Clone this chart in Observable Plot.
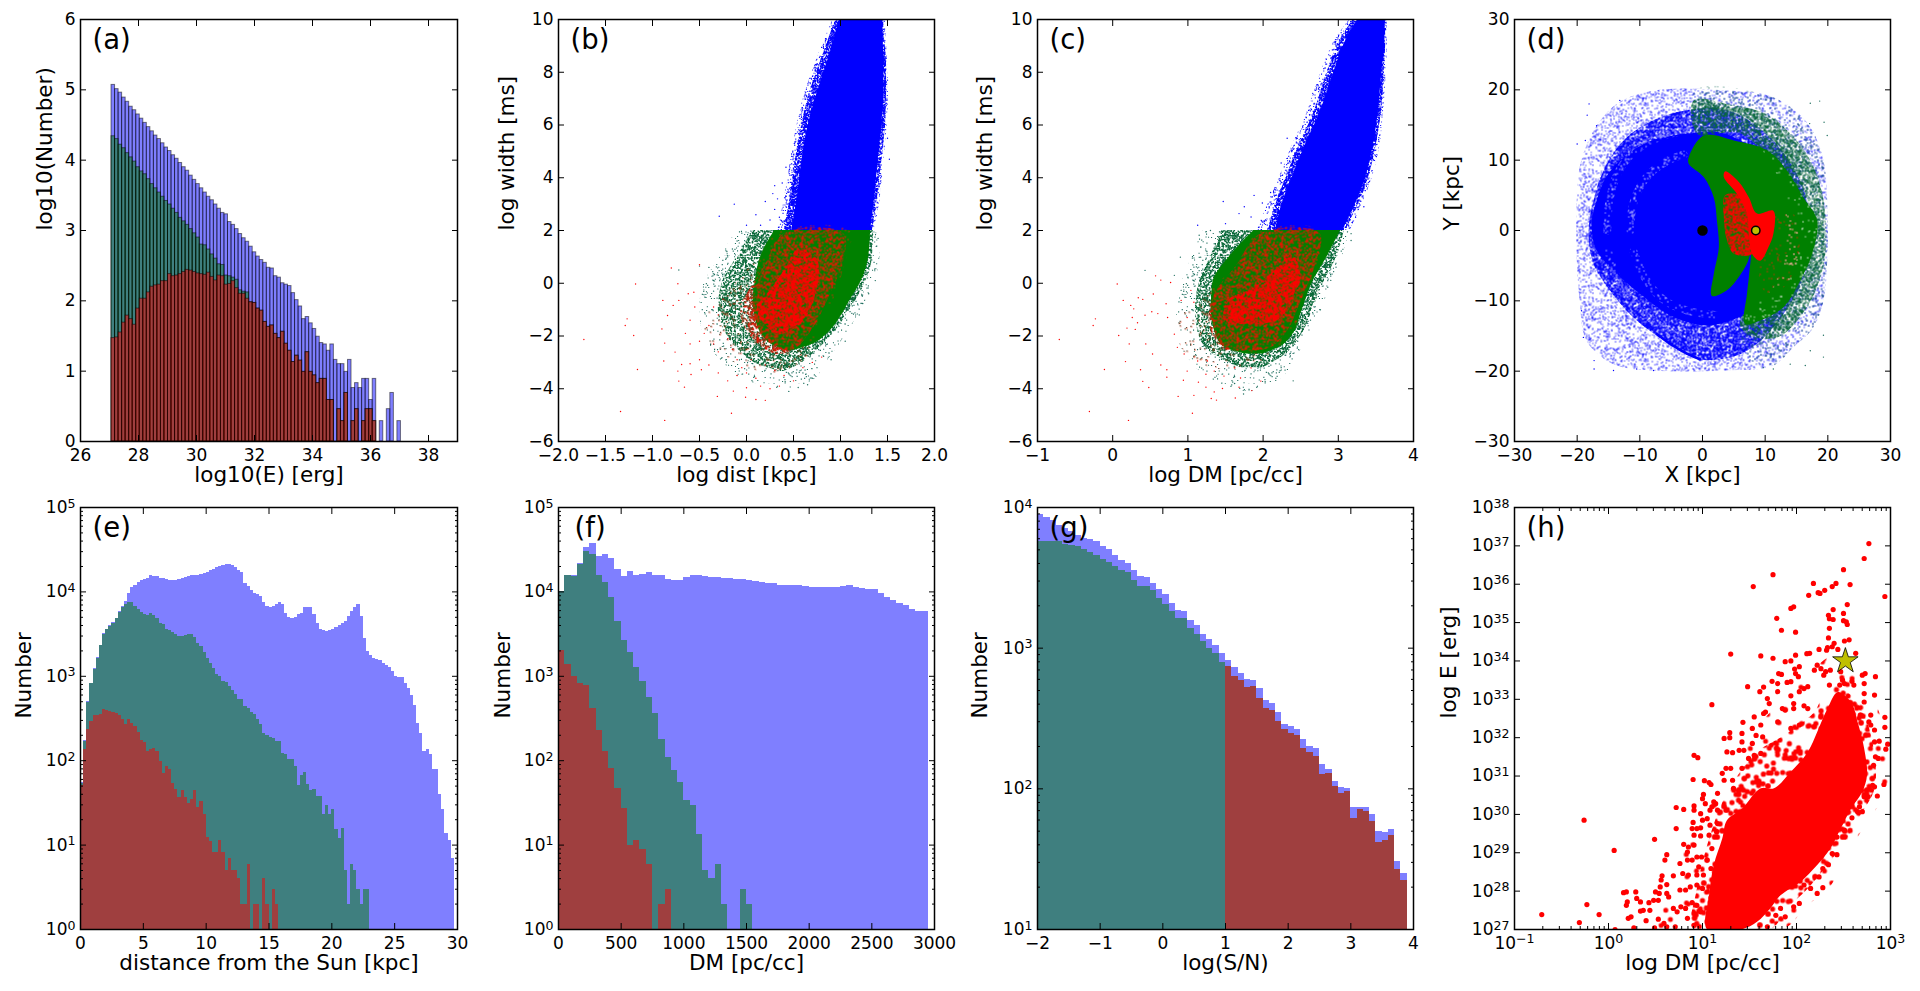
<!DOCTYPE html>
<html>
<head>
<meta charset="utf-8">
<script src="https://cdn.jsdelivr.net/npm/d3@7"></script>
<script src="https://cdn.jsdelivr.net/npm/@observablehq/plot@0.6"></script>
<style>
  html, body { margin: 0; background: #fff; }
  #page { position: relative; width: 1920px; height: 991px; overflow: hidden; }
  #page > div { position: absolute; }
  svg { overflow: visible; }
</style>
</head>
<body>
<div id="page"></div>
<script>
// (a) log10(count) per energy bin
const aStart = 27.07, aWidth = 0.1217;
const aBlue = [5.07,5.01,4.96,4.89,4.83,4.76,4.71,4.65,4.59,4.53,4.47,4.41,4.35,4.30,4.24,4.18,4.13,4.07,4.02,3.96,3.90,3.85,3.78,3.72,3.66,3.60,3.54,3.48,3.43,3.37,3.31,3.25,3.23,3.12,3.08,3.02,2.95,2.89,2.84,2.77,2.69,2.63,2.58,2.54,2.47,2.46,2.35,2.33,2.25,2.23,2.21,2.11,2.01,1.92,1.74,1.77,1.68,1.60,1.49,1.40,1.38,1.29,1.38,1.16,1.10,1.10,.99,1.16,.76,.83,.76,.89,.89,.59,.89,0,.29,0,.46,.69,0,.29];
const aGreen = [4.34,4.30,4.22,4.17,4.10,4.04,3.98,3.90,3.84,3.80,3.73,3.66,3.60,3.54,3.48,3.42,3.37,3.31,3.25,3.18,3.13,3.08,3.02,2.96,2.90,2.80,2.79,2.73,2.66,2.60,2.52,2.51,2.36,2.35,2.33,2.30,2.15,2.13,2.12];
const aRed = [1.47,1.48,1.55,1.69,1.79,1.74,1.66,1.89,2.03,2.03,2.12,2.20,2.22,2.23,2.28,2.28,2.38,2.35,2.36,2.38,2.41,2.44,2.43,2.41,2.39,2.38,2.37,2.40,2.34,2.29,2.36,2.35,2.23,2.24,2.28,2.18,2.10,2.10,2.03,1.98,1.97,1.89,1.86,1.70,1.63,1.65,1.53,1.47,1.56,1.39,1.29,1.13,1.22,1.15,.99,1.27,.99,.94,.83,.89,.89,.59,.59,0,.46,.29,.69,0,.29,.46,0,.29,.46,.46,.29];

// (e) log10(count), 0.25 kpc bins
const eBlue = [1.74,2.24,2.70,2.92,3.09,3.22,3.37,3.51,3.56,3.60,3.64,3.69,3.77,3.83,3.89,3.98,4.05,4.08,4.11,4.14,4.15,4.16,4.19,4.18,4.18,4.16,4.16,4.15,4.14,4.14,4.14,4.15,4.16,4.17,4.18,4.19,4.20,4.20,4.21,4.22,4.23,4.25,4.27,4.29,4.30,4.31,4.32,4.32,4.31,4.29,4.25,4.23,4.10,4.06,4.02,3.98,3.97,3.95,3.87,3.83,3.81,3.83,3.85,3.88,3.85,3.75,3.70,3.69,3.70,3.73,3.74,3.81,3.81,3.82,3.73,3.63,3.56,3.54,3.53,3.54,3.55,3.58,3.60,3.63,3.65,3.71,3.77,3.81,3.85,3.71,3.45,3.29,3.25,3.21,3.20,3.19,3.15,3.13,3.10,3.06,3.00,2.99,2.99,2.92,2.85,2.77,2.65,2.44,2.32,2.11,2.13,2.07,1.89,1.89,1.60,1.42,1.14,1.05,.84];
const eGreen = [1.73,2.23,2.69,2.91,3.08,3.21,3.36,3.50,3.55,3.59,3.63,3.68,3.76,3.81,3.85,3.87,3.87,3.83,3.79,3.76,3.73,3.72,3.75,3.72,3.69,3.62,3.61,3.55,3.54,3.52,3.49,3.47,3.47,3.48,3.50,3.49,3.46,3.39,3.35,3.28,3.21,3.15,3.09,3.02,3.00,2.94,2.93,2.88,2.83,2.78,2.73,2.72,2.64,2.62,2.57,2.55,2.49,2.43,2.32,2.30,2.28,2.26,2.23,2.23,2.08,2.07,2.01,2.02,1.93,1.71,1.83,1.86,1.72,1.65,1.66,1.57,1.57,1.36,1.47,1.36,1.42,1.18,1.08,1.20,.70,.30,.77,.70,.47,.30,.47,.47];
const eRed = [1.71,2.13,2.37,2.46,2.53,2.54,2.55,2.61,2.60,2.58,2.57,2.56,2.53,2.49,2.43,2.49,2.44,2.40,2.34,2.24,2.21,2.11,2.13,2.14,2.11,1.99,1.85,1.93,1.89,1.73,1.66,1.56,1.65,1.56,1.49,1.54,1.65,1.45,1.52,1.36,1.09,1.04,.91,.91,1.05,.91,.70,.84,.70,.70,.61,.30,.30,.77,0,.30,.30,0,.60,.30,0,.47,.30];

// (f) log10(count), 50 pc/cc bins
const fBlue = [4.00,4.20,4.19,4.34,4.53,4.57,4.42,4.44,4.39,4.26,4.18,4.24,4.20,4.21,4.23,4.20,4.19,4.15,4.13,4.14,4.17,4.19,4.19,4.18,4.17,4.17,4.16,4.16,4.15,4.15,4.14,4.12,4.11,4.10,4.10,4.08,4.07,4.07,4.07,4.06,4.05,4.05,4.05,4.05,4.05,4.06,4.07,4.05,4.04,4.03,4.03,3.98,3.93,3.90,3.86,3.84,3.79,3.77,3.77];
const fGreen = [4.00,4.19,4.18,4.32,4.48,4.44,4.20,4.11,3.93,3.65,3.42,3.28,3.10,2.94,2.75,2.56,2.25,2.04,1.88,1.74,1.53,1.47,1.12,.70,.61,.77,.30,0,0,.47,.30];
const fRed = [3.31,3.14,3.00,2.92,2.89,2.62,2.36,2.11,1.91,1.67,1.43,1.00,1.05,.95,.77,0,.30,.47];

// (g) log10(count), 0.1 dex bins from -2
const gBlue = [3.95,3.93,3.91,3.87,3.85,3.83,3.80,3.78,3.77,3.76,3.72,3.70,3.66,3.62,3.60,3.55,3.51,3.50,3.46,3.42,3.38,3.32,3.27,3.26,3.20,3.16,3.10,3.06,3.02,2.96,2.91,2.86,2.82,2.78,2.77,2.71,2.63,2.61,2.54,2.46,2.44,2.42,2.35,2.30,2.29,2.17,2.14,2.05,2.01,2.00,1.87,1.87,1.87,1.82,1.70,1.69,1.71,1.48,1.40];
const gGreen = [3.76,3.76,3.76,3.76,3.74,3.73,3.72,3.70,3.68,3.66,3.63,3.61,3.58,3.55,3.54,3.48,3.44,3.44,3.41,3.35,3.31,3.26,3.21,3.21,3.14,3.10,3.05,3.00,2.96,2.90];
const gRed = [2.87,2.80,2.77,2.72,2.73,2.64,2.57,2.56,2.48,2.42,2.39,2.38,2.29,2.26,2.23,2.10,2.11,2.02,1.97,1.98,1.79,1.85,1.84,1.77,1.62,1.63,1.67,1.43,1.35];

// (b) cloud edges read per width level: log width, then left and right log dist
const bBlueY = [2,3.14,4.66,6.05,7.19,8.33,9.22,10];
const bBlueCoreL = [.48,.535,.59,.66,.75,.855,.93,.99];
const bBlueCoreR = [1.32,1.36,1.40,1.44,1.46,1.46,1.455,1.45];
const bBlueMidL = [.40,.46,.52,.59,.67,.78,.87,.95];
const bBlueMidR = [1.34,1.39,1.44,1.48,1.49,1.49,1.47,1.46];
const bBlueOutL = [.33,.40,.47,.54,.62,.73,.83,.92];
const bBlueOutR = [1.36,1.42,1.46,1.50,1.51,1.50,1.49,1.48];
const bGreenCoreY = [2,1,0,-.65,-1.22,-1.92,-2.3,-2.55];
const bGreenCoreL = [.30,.15,.09,.07,.09,.16,.26,.42];
const bGreenCoreR = [1.32,1.30,1.21,1.10,1.01,.855,.71,.50];
const bGreenMidY = [2,1,0,-1,-2,-2.7,-3.1,-3.35];
const bGreenMidL = [.07,-.1,-.26,-.30,-.2,-.03,.14,.36];
const bGreenMidR = [1.35,1.34,1.26,1.1,.9,.7,.55,.4];
const bGreenOutY = [2,1,0,-1,-2,-3,-3.7,-4];
const bGreenOutL = [-.1,-.28,-.45,-.5,-.45,-.25,0,.3];
const bGreenOutR = [1.38,1.42,1.36,1.22,1.05,.85,.7,.5];
const bRedOut = [[.36,1.98],[1.1,1.98],[1.05,.8],[.9,-.8],[.75,-2],[.6,-3],[.3,-3.4],[0,-3.2],[-.3,-2.6],[-.45,-1.8],[-.4,-1],[-.2,-.3],[0,.5]];
const bRedMid = [[.4,1.9],[1.03,1.9],[1.03,.87],[.855,-.65],[.71,-1.66],[.535,-2.42],[.36,-2.68],[.22,-2.55],[0,-1.8],[-.07,-.9],[0,-.4],[.18,.62]];
const bRedCore = [[.55,1.3],[.75,.9],[.72,-.6],[.57,-1.54],[.36,-1.92],[.22,-1.66],[.11,-.9],[.22,-.4],[.4,.5]];
// (b) single points
const bRedDots = [[-1.73,-2.13],[-1.34,-4.86],[-.87,-5.2],[-.16,-4.93],[-1.16,-3.27],[-1.2,-1.98],[-1.29,-1.6],[-1.27,-1.35],[-1.18,-.03],[-.8,.58],[-.73,-.02],[-.89,-.65],[-.9,-1.73],[-.87,-2.27],[-.88,-2.95],[-.73,-3.33],[-.72,-3.71],[-.66,-3.94],[-.76,-2.61],[-.69,-3.08],[-.59,-3.46],[-.6,-3.05],[-.48,-3.28],[-.31,-4.29],[-.14,-4.09],[-.01,-4.32],[.2,-4.44],[.1,-4.41],[0,-3.96],[-.84,-1.22],[-.78,-.84],[-.72,-.65],[-.62,-.4],[-.56,-.34],[-.5,.7],[-.35,-.9],[-.3,-1.2],[-.25,-.6],[-.4,-1.6],[-.45,-1.9],[-.5,-2.2],[-.35,-2.3],[-.3,-2.6],[-.2,-2.1],[-.15,-2.5],[-.1,-2.9],[-.05,-3.2],[0,-3.4],[.1,-3.6],[.15,-3.9],[.25,-4.0],[.35,-3.9],[.4,-3.5],[.5,-3.7],[.6,-3.2],[.7,-3.0],[.8,-2.8],[-.6,-1.4],[-.55,-.9],[-.65,-1.9],[-.6,-2.3],[-.5,-2.9],[-.4,-3.1],[-.3,-3.4],[-.2,-3.7],[-.1,-3.5],[.05,-2.9],[.2,-3.1],[.3,-3.3]];
const bGreenDots = [[-.72,.5],[-.5,.65],[-.4,.6],[-.3,.3],[-.2,1.0],[-.15,1.3],[-.1,1.6],[-.05,1.9],[-.25,.1],[-.35,-.3],[.6,-3.4],[.7,-3.6],[.75,-3.2],[.9,-2.9],[1.05,-2.2],[1.2,-1.2],[1.3,-.4],[1.37,.1],[1.38,1.4],[1.4,1.7],[.45,-4.1],[.55,-3.95],[.65,-3.85]];
const bBlueDots = [[-.29,2.54],[-.13,3.0],[.1,2.6],[.2,3.1],[.28,3.4],[.3,2.8],[.38,3.8],[.3,3.7],[.42,4.4],[.48,4.9],[.55,5.4],[.6,5.8],[.62,6.5],[.7,7.5],[1.5,7.7],[1.52,4.7],[1.5,5.5],[.15,2.2],[.25,2.4],[.35,2.5],[0,2.2],[.33,3.2],[.42,3.3]];

// (c) cloud edges read per width level: log width, then left and right log DM
const cBlueY = [2,2.9,3.9,5.17,6.44,8.08,9.09,10];
const cBlueCoreL = [2.17,2.24,2.37,2.55,2.75,2.95,3.08,3.26];
const cBlueCoreR = [3.06,3.21,3.35,3.46,3.53,3.58,3.62,3.62];
const cBlueMidL = [2.07,2.16,2.29,2.47,2.67,2.86,3.0,3.2];
const cBlueMidR = [3.10,3.25,3.39,3.50,3.57,3.61,3.63,3.63];
const cBlueOutL = [1.92,2.05,2.2,2.38,2.58,2.78,2.93,3.15];
const cBlueOutR = [3.16,3.3,3.44,3.55,3.6,3.64,3.65,3.65];
const cGreenCoreY = [2,1,0,-1,-2,-2.45,-2.68];
const cGreenCoreL = [1.88,1.55,1.33,1.31,1.38,1.5,1.75];
const cGreenCoreR = [3.03,2.85,2.65,2.52,2.38,2.2,2.0];
const cGreenMidY = [2,1,0,-1,-2,-2.8,-3.2];
const cGreenMidL = [1.45,1.3,1.15,1.1,1.15,1.4,1.7];
const cGreenMidR = [3.08,2.98,2.8,2.66,2.5,2.25,2.0];
const cGreenOutY = [2,1,0,-1,-2,-3,-3.7,-4.1];
const cGreenOutL = [1.2,1.05,.92,.85,.87,1.05,1.35,1.7];
const cGreenOutR = [3.15,3.05,2.9,2.78,2.6,2.4,2.2,1.9];
const cRedOut = [[1.95,1.98],[2.78,1.98],[2.7,.6],[2.55,-.8],[2.35,-2],[2.1,-2.8],[1.7,-3.2],[1.3,-3.2],[.98,-2.7],[.85,-1.8],[1.0,-.9],[1.3,-.2],[1.65,.7]];
const cRedMid = [[1.97,1.9],[2.75,1.9],[2.68,.61],[2.50,-.65],[2.32,-1.79],[2.10,-2.42],[1.75,-2.55],[1.44,-2.42],[1.28,-1.54],[1.35,-.4],[1.62,.61]];
const cRedCore = [[2.37,1.11],[2.50,.23],[2.41,-.4],[2.24,-1.29],[1.97,-1.54],[1.66,-1.54],[1.48,-1.41],[1.53,-.65],[1.88,-.15],[2.19,.61]];
// (c) single points
const cRedDots = [[-.71,-2.13],[-.31,-4.86],[.21,-5.2],[1.06,-4.93],[-.11,-3.27],[.08,-1.98],[-.26,-1.6],[-.23,-1.35],[.06,-.03],[.14,-.65],[.24,-.84],[.28,-.97],[.4,-.61],[.34,-.55],[.57,.28],[.64,.12],[.77,.03],[.54,-.41],[.71,-.78],[.43,-1.21],[.52,-1.08],[.6,-1.15],[.33,-1.5],[.26,-1.3],[.3,-1.75],[.19,-1.7],[.22,-2.3],[.17,-2.97],[.37,-3.28],[.4,-3.72],[.48,-3.95],[.44,-2.3],[.53,-2.68],[.64,-3.1],[.72,-3.28],[.72,-3.56],[.94,-3.68],[.87,-4.29],[1.08,-4.25],[1.14,-3.75],[1.24,-3.94],[1.31,-4.37],[1.38,-4.43],[1.35,-4.12],[1.46,-3.99],[1.63,-4.35],[1.68,-3.94],[1.85,-4.07],[.73,-1.3],[.82,-1.93],[.86,-2.43],[.95,-2.68],[.99,-3.33],[1.13,-2.95],[1.26,-2.95],[1.24,-3.45],[1.35,-3.33],[1.48,-3.52],[1.62,-3.21],[1.7,-3.59],[1.84,-3.21],[1.97,-3.71],[.91,-.65],[1.04,-.27],[1.08,-.72],[.99,-1.3]];
const cGreenDots = [[.43,.49],[.82,.3],[.9,.99],[1.08,.61],[1.17,1.37],[1.15,1.82],[1.3,2],[1.17,.99],[1.35,1.5],[1.0,.23],[.91,-.27],[3.17,1.62],[3.17,1.88],[2.97,.61],[2.9,.11],[2.86,-.15],[2.68,-.9],[2.63,-1.4],[2.5,-1.9],[2.46,-2.2],[2.37,-2.6],[2.4,-3.7],[2.24,-3.2],[2.17,-3.6],[1.74,-4.2],[1.62,-3.8]];
const cBlueDots = [[1.47,3.1],[1.13,2.2],[1.5,2.26],[1.68,2.64],[1.88,3.33],[1.99,3.04],[1.84,2.51],[1.75,2.9],[2.1,3.44],[2.24,4.56],[2.32,5.5],[2.57,6.3],[2.66,7.2],[2.68,6.4],[2.41,5.1],[3.41,4.2],[3.34,2.9],[3.23,2.5]];

// (d) galaxy map regions, [X, Y] in kpc
const dBlueHalo = [[-20.1,3.3],[-19.6,9],[-17.4,14.2],[-13.7,18],[-8.9,19.7],[-3,20.2],[3.9,19.9],[9.7,19.4],[14,17.6],[17.2,14.7],[19.3,10],[19.9,4.3],[19.9,-4.3],[19.3,-10],[17.7,-13.8],[14.5,-16.6],[11.3,-19.2],[3.4,-19.9],[-7.8,-19.9],[-14.2,-19],[-18.5,-15.7],[-19.6,-10],[-20.1,-3.3]];
const dBlueMid = [[-18.2,-.5],[-17.4,4.3],[-15.8,8.5],[-12.6,12.8],[-7.8,15.7],[-2.5,17.1],[3.9,17.1],[11.3,12.8],[16.7,4.3],[16.7,-5.2],[11.3,-13.8],[6,-17.6],[-.4,-18.3],[-5.2,-16.1],[-10.5,-12.8],[-14.8,-8.5],[-17.4,-4.7]];
const dBlueCore = [[-17.7,.5],[-16.9,4.3],[-15,8.1],[-11.6,11.1],[-7.3,13],[-2,13.8],[3.4,13.8],[11.3,9],[14,-.5],[11.3,-10],[6,-12.3],[.7,-13.5],[-4.6,-12.3],[-10,-9],[-14.2,-5.7],[-16.9,-2.8]];
const dGreenOut = [[-1,20],[9.7,19.4],[14,17.6],[17.2,14.7],[19.3,10],[19.9,4.3],[19.9,-4.3],[19.3,-10],[17.7,-13.8],[14.5,-16.6],[11.3,-19.2],[7,-18],[6,-13],[13,-.5],[6,14],[-1,14]];
const dGreenHalo = [[-1.4,18.5],[3.9,18],[10.3,16.5],[14,13.8],[17.2,10],[19.3,4.3],[19.6,-3.3],[18.3,-8],[15.6,-12.3],[11.9,-15.2],[7,-14.7],[6,-12.8],[11.3,-8],[13.4,-.5],[11.3,9],[6,13.8],[-.9,13.8]];
const dGreenCore = [[-2.2,10.4],[.2,13.5],[5,12.8],[10.3,11.4],[13.5,8.5],[16.1,4.7],[18.3,1.4],[17.5,-3.3],[15.6,-7.1],[12.9,-10.9],[9.2,-12.8],[6.8,-13.3],[7.1,-9],[7.4,-6.6],[7.7,-3.3],[7.1,-4.7],[5.8,-6.6],[3.9,-8.5],[1.5,-9.3],[1.8,-6.2],[2.6,-2.4],[2.3,1.4],[1.8,4.7],[.2,7.6],[-2.2,9.5]];
const dRedCore = [[3.6,8.4],[5.8,6.9],[7.4,4.7],[8.7,2.4],[11.3,2.8],[11.3,-.5],[10.5,-2.4],[9.2,-4.3],[7.9,-3.3],[7.4,-.5],[7.1,2.4],[5.5,5.2],[3.4,7.6]];
const dRedMid = [[3.6,5],[6,5],[7.8,.5],[8,-3.3],[5,-3.3],[3.9,-1.4],[3.4,1.9]];
const dRedFaint = [[11,2.6],[14.5,2.4],[15.6,-1.4],[13.5,-7.6],[10.3,-9],[8.8,-4.7]];
const dRingsUpper = [[[-15.2,0],[-14.7,5],[-13,9],[-10,11.8],[-6,13.5],[-2,14.3]],[[-11.5,0],[-11,4],[-9,7.5],[-6,9.7],[-3,10.8]]];
const dRingsLower = [[[-15,-3],[-13.5,-7],[-10,-11],[-6,-14],[-2,-15.5],[3,-16]],[[-11,-3],[-9,-7],[-6,-10],[-2,-11.5],[2,-12]]];
const dDarkArc = [[-7.3,-14.7],[-5,-16.2],[-2.5,-17.5],[-.4,-18.3]];
// (d) single points
const dBlueDots = [[-18.1,18],[-18.4,16.4],[-20,12.3],[-18.7,12.8],[-16.9,14.9],[-13.2,18.5],[-19.3,-11.4],[-19,-15.2],[-17.3,-18.5],[-17.3,-19.7],[-14.2,-19.9],[-10.5,-19.7],[-7.8,-19.9]];
const dGreenDots = [[18.7,18.4],[17.2,18.1],[19.4,15.4],[17.1,15.2],[19.9,13.5],[19.3,-14.9],[19.3,-18],[17.2,-17.1],[16.4,-19.2],[14,-19],[11.3,-19.7],[9.7,-19.5]];
const dGalacticCentre = [[0, 0]];
const dSun = [[8.5, 0]];

// (h) [log DM, log E]
const hRedOut = [[.55,27],[.6,27.9],[.75,28.9],[.95,29.9],[1.1,30.8],[1.3,31.5],[1.55,32.2],[1.85,33],[2.1,33.6],[2.45,34.2],[2.7,33.6],[2.9,32.5],[2.97,31.5],[2.95,30.6],[2.75,29.8],[2.55,29],[2.35,28.1],[2.1,27.6],[1.85,27]];
const hRedHalo = [[.91,27],[.94,28.07],[1.05,29.2],[1.19,30.2],[1.33,30.85],[1.58,31.63],[1.87,32.07],[2.19,32.67],[2.35,33.37],[2.58,33.11],[2.75,32.41],[2.83,31.54],[2.83,30.67],[2.68,29.98],[2.51,29.29],[2.33,28.69],[2.12,28.07],[1.90,27.55],[1.72,27]];
const hRedCore = [[1.05,27],[1.07,27.9],[1.12,28.68],[1.21,29.37],[1.26,29.85],[1.42,30.15],[1.62,30.68],[1.76,30.68],[1.94,31.11],[2.12,31.63],[2.22,32.15],[2.33,32.76],[2.44,33.19],[2.58,32.93],[2.65,32.41],[2.72,31.72],[2.75,31.02],[2.70,30.59],[2.58,30.15],[2.47,29.63],[2.36,29.11],[2.22,28.68],[2.04,28.24],[1.83,27.89],[1.72,27.55],[1.58,27.2],[1.41,27]];
const hDots = [[2.77,37.06],[2.72,36.67],[1.75,36.25],[2.50,36.38],[2.18,36.02],[2.42,36.02],[2.38,35.94],[2.57,35.99],[1.54,35.94],[2.13,35.71],[2.23,35.78],[2.25,35.76],[2.30,35.84],[2.94,35.68],[2.54,35.47],[1.97,35.41],[1.94,35.37],[2.39,35.34],[2.50,35.24],[2.34,35.19],[1.79,35.11],[2.35,35.10],[2.39,35.08],[2.50,35.05],[2.53,35.02],[2.54,34.95],[2.35,34.85],[1.84,34.8],[1.99,34.75],[2.34,34.6],[2.56,34.55],[2.51,34.52],[2.40,34.46],[2.38,34.37],[2.44,34.3],[2.33,34.35],[2.24,34.3],[2.32,34.28],[1.30,34.18],[1.62,34.13],[1.75,34.07],[1.99,34.15],[2.11,34.19],[2.14,34.2],[2.63,34.2],[1.88,33.98],[1.94,34.0],[2.03,33.85],[1.98,33.79],[1.99,33.67],[2.02,33.59],[1.81,33.67],[1.84,33.65],[1.74,33.47],[1.80,33.41],[1.90,33.44],[1.94,33.46],[1.48,33.33],[1.65,33.32],[1.61,33.2],[1.80,33.2],[1.94,33.09],[2.03,33.2],[2.08,33.28],[2.12,33.33],[1.10,32.86],[1.69,33.02],[1.71,32.89],[1.67,32.67],[1.55,32.54],[1.65,32.63],[1.85,32.76],[1.88,32.72],[1.97,32.89],[1.97,32.76],[2.08,32.83],[2.12,32.76],[1.43,32.4],[1.62,32.33],[1.80,32.41],[1.94,32.24],[2.03,32.33],[1.29,32.13],[1.23,31.98],[1.29,32.0],[1.42,32.11],[1.53,32.24],[1.57,32.06],[1.64,32.02],[1.42,31.89],[1.53,31.85],[1.44,31.67],[1.26,31.63],[1.32,31.61],[1.39,31.67],[.91,31.54],[.95,31.48],[1.49,31.46],[1.55,31.54],[1.62,31.59],[1.25,31.2],[1.3,31.2],[1.42,31.2],[.90,30.91],[1.02,30.88],[1.07,30.83],[1.09,30.78],[1.21,31.07],[1.23,30.89],[1.32,30.89],[1.33,30.68],[1.01,30.52],[1.0,30.41],[1.16,30.55],[1.12,30.33],[1.14,30.28],[1.1,30.2],[1.03,30.28],[.72,30.18],[.8,30.13],[.91,30.22],[.91,30.11],[1.08,30.11],[1.16,30.11],[1.25,30.11],[.98,30.02],[1.05,29.89],[1,29.85],[.9,29.79],[-.26,29.85],[.72,29.63],[.89,29.63],[.94,29.63],[.98,29.65],[1.08,29.72],[1.16,29.76],[.91,29.46],[.98,29.44],[1.07,29.46],[1.15,29.55],[.49,29.35],[.06,29.06],[.80,29.22],[.85,29.15],[.84,29.02],[.91,29.2],[1.10,29.11],[.62,28.95],[.6,28.81],[.76,28.72],[.84,28.81],[.89,28.81],[.94,28.89],[.99,28.89],[1.05,28.81],[.96,28.63],[1.09,28.59],[.57,28.4],[.56,28.29],[.69,28.4],[.79,28.46],[.85,28.42],[.94,28.42],[1.01,28.42],[.62,28.17],[.55,28.11],[.76,28.03],[.82,28.03],[.87,28.11],[.94,28.16],[1.0,28.07],[.16,27.96],[.19,27.98],[.29,27.98],[.5,27.98],[.54,27.94],[.62,27.94],[.64,27.85],[.3,27.81],[.34,27.72],[.2,27.72],[.19,27.63],[-.23,27.65],[.43,27.7],[.37,27.5],[.34,27.48],[.44,27.5],[.48,27.76],[.53,27.76],[.69,27.55],[.73,27.46],[.77,27.59],[.82,27.55],[.89,27.7],[.94,27.63],[.98,27.46],[-.1,27.39],[-.71,27.39],[-.31,27.18],[.24,27.33],[.21,27.29],[.4,27.23],[.53,27.27],[.59,27.16],[.49,27.04],[.62,27.07],[.71,27.07],[.84,27.29],[.91,27.11],[.27,27.04],[.07,27.0],[2.94,32.53],[2.94,32.27],[2.79,32.59],[2.79,32.33],[2.83,32.2],[2.97,31.83],[2.95,31.7],[2.88,31.91],[2.83,31.89],[2.84,31.5],[2.87,31.46],[2.82,31.28],[2.93,30.78],[2.86,30.48],[2.81,30.76],[2.83,30.72],[2.72,30.46],[2.76,30.46],[2.67,30.2],[2.7,30.07],[2.65,30.07],[2.59,29.91],[2.51,29.59],[2.43,29.41],[2.43,28.95],[2.38,28.98],[2.34,28.69],[2.28,28.59],[2.24,28.37],[2.28,28.09],[2.22,27.94],[2.15,28.07],[2.08,28.16],[2.03,27.68],[1.97,27.59],[1.88,27.33],[1.78,27.37],[1.69,27.07],[1.83,27.55],[2.84,33.59],[2.73,33.67],[2.7,33.63],[2.72,33.41],[2.61,33.37],[2.51,33.41],[2.46,33.37],[2.35,33.37],[2.49,33.5],[2.59,33.47],[2.47,33.72],[2.36,33.76],[2.29,33.63],[2.26,33.8],[2.22,33.89],[2.19,33.76],[2.31,33.72],[2.83,33.11],[2.72,33.15],[2.72,32.93],[2.68,32.59],[2.77,32.41]];
const hStar = [[2.52, 34.0]];

// grain textures: the dense parts of the clouds hold far too many points to read,
// so those regions get a speckled fill instead of a flat colour
function addGrain() {
  const scatter = (i, s) => { const v = Math.sin(i * s) * 43758.5453; return v - Math.floor(v); };
  const tile = (n, W, draw) => {
    let d = "";
    for (let i = 1; i <= n; i++) d += draw(scatter(i, 12.9898) * W, scatter(i, 78.233) * W);
    return d;
  };
  const square = (s) => (x, y) => `M${x.toFixed(1)} ${y.toFixed(1)}h${s}v${s}h${-s}z`;
  const blob = (r, W) => (x, y) => {
    let d = "";
    for (const ox of [0, -W, W]) for (const oy of [0, -W, W]) {
      const px = x + ox, py = y + oy;
      if (px > -r && px < W + r && py > -r && py < W + r) d += `M${(px - r).toFixed(1)} ${py.toFixed(1)}a${r} ${r} 0 1 0 ${2 * r} 0a${r} ${r} 0 1 0 ${-2 * r} 0z`;
    }
    return d;
  };
  const defs = [
    ["blue-sparse", "#1010ff", 2800, 128, square(1.1)],
    ["blue-mid", "#0404ff", 13000, 128, square(1.3)],
    ["green-sparse", "#1f6f5f", 1000, 128, square(1.1)],
    ["green-mid", "#0b6a3a", 8000, 128, square(1.3)],
    ["red-sparse", "#ee2200", 500, 128, square(1.1)],
    ["red-mid", "#f01000", 4500, 128, square(1.3)],
    ["red-dense", "#ff0000", 11000, 128, square(1.3)],
    ["white-sparse", "#ffffff", 420, 128, square(1.1)],
    ["white-mid", "#c8c8ff", 1300, 128, square(1.2)],
    ["red-blobs", "#ff0000", 300, 128, blob(2.6, 128)],
    ["red-spots", "#ff0000", 50, 128, blob(2.5, 128)]
  ];
  const holder = d3.select("body").append("svg").attr("width", 0).attr("height", 0).style("position", "absolute");
  const d = holder.append("defs");
  for (const [id, color, n, W, draw] of defs) {
    d.append("pattern").attr("id", id).attr("width", W).attr("height", W).attr("patternUnits", "userSpaceOnUse")
      .append("path").attr("fill", color).attr("d", tile(n, W, draw));
  }
}
addGrain();

// tick labels
const range = (a, b, s) => d3.range(a, b + s / 2, s);
const pow10Label = (v) => "10^" + Math.round(Math.log10(v));
const decades = (a, b) => range(a, b, 1).map((e) => 10 ** e);
const minorDecades = (a, b) => d3.range(a, b).flatMap((e) => [2,3,4,5,6,7,8,9].map((m) => m * 10 ** e));

// histogram rows, values are log10(count)
function bars(start, width, values, base, linear) {
  return values.map((v, i) => ({
    x0: start + i * width,
    x1: start + (i + 1) * width,
    y0: base,
    y: linear ? v : 10 ** v,
    v
  })).filter((d) => d.v > 0);
}
const hist = (start, width, values, fill, base) =>
  Plot.rect(bars(start, width, values, base, false), {
    x1: "x0", x2: "x1", y1: "y0", y2: "y", fill, fillOpacity: 0.5, shapeRendering: "crispEdges"
  });
const histEdged = (start, width, values, fill) =>
  Plot.rect(bars(start, width, values, 0, true), {
    x1: "x0", x2: "x1", y1: "y0", y2: "y", fill, fillOpacity: 0.5, stroke: "black", strokeOpacity: 0.5, strokeWidth: 1
  });
const region = (pts, fill, fx = (v) => v, fy = (v) => v) =>
  Plot.line(pts, {x: (d) => fx(d[0]), y: (d) => fy(d[1]), fill, stroke: "none", curve: "catmull-rom-closed", clip: true});
const band = (ys, ls, rs, fill) =>
  Plot.areaX(ys.map((y, i) => ({y, l: ls[i], r: rs[i]})), {y: "y", x1: "l", x2: "r", fill, curve: "monotone-y", clip: true});
const specks = (pts, fill, r = 0.7) =>
  Plot.dot(pts, {x: (d) => d[0], y: (d) => d[1], r, fill, stroke: "none", clip: true});
const arc = (pts, stroke, strokeWidth) =>
  Plot.line(pts, {x: (d) => d[0], y: (d) => d[1], stroke, strokeWidth, curve: "catmull-rom"});

// one panel of the 2x4 figure
function panel(cfg) {
  const {slot, x, y, xTicks, yTicks, xMinor = [], yMinor = [], xFormat, yFormat, xLabel, yLabel, yLabelOffset, tag, tagDx = 12, marks} = cfg;
  const tickMarks = (ticks, size) => ticks.length ? [
    Plot.axisX({anchor: "bottom", ticks, tickSize: -size, text: null, label: null}),
    Plot.axisX({anchor: "top", ticks, tickSize: -size, text: null, label: null})
  ] : [];
  const tickMarksY = (ticks, size) => ticks.length ? [
    Plot.axisY({anchor: "left", ticks, tickSize: -size, text: null, label: null}),
    Plot.axisY({anchor: "right", ticks, tickSize: -size, text: null, label: null})
  ] : [];
  const svg = Plot.plot({
    width: slot.width,
    height: slot.height,
    marginLeft: slot.left,
    marginRight: slot.right,
    marginTop: slot.top,
    marginBottom: slot.bottom,
    x: {...x, nice: false, label: null},
    y: {...y, nice: false, label: null},
    style: {fontFamily: "'DejaVu Sans'", background: "transparent", color: "black"},
    marks: [
      ...marks,
      Plot.frame({stroke: "black", strokeWidth: 1.5}),
      ...tickMarks(xTicks, 6), ...tickMarks(xMinor, 3),
      ...tickMarksY(yTicks, 6), ...tickMarksY(yMinor, 3),
      Plot.axisX({anchor: "bottom", ticks: xTicks, tickSize: 0, tickPadding: 7, tickFormat: xFormat, fontSize: 17, label: null}),
      Plot.axisY({anchor: "left", ticks: yTicks, tickSize: 0, tickPadding: 5, tickFormat: yFormat, fontSize: 17, label: null}),
      Plot.text([xLabel], {frameAnchor: "bottom", dy: 40, fontSize: 21.5}),
      Plot.text([yLabel], {frameAnchor: "left", dx: -yLabelOffset, rotate: -90, fontSize: 21.5}),
      Plot.text([tag], {frameAnchor: "top-left", dx: tagDx, dy: 10, textAnchor: "start", lineAnchor: "top", fontSize: 27.5})
    ]
  });
  // raise the exponents of the log axis labels
  d3.select(svg).selectAll("text").each(function () {
    const m = /^10\^(-?\d+)$/.exec(this.textContent);
    if (!m) return;
    const text = d3.select(this);
    const target = this.querySelector("tspan") ? text.select("tspan") : text;
    target.text("10");
    target.append("tspan").attr("dy", "-0.42em").attr("font-size", "0.74em").text(m[1].replace("-", "−"));
  });
  const holder = document.createElement("div");
  holder.style.left = slot.x + "px";
  holder.style.top = slot.y + "px";
  holder.appendChild(svg);
  document.getElementById("page").appendChild(holder);
}

const topRow = {y: 0, height: 495, top: 19, bottom: 54};
const lowRow = {y: 495, height: 496, top: 12, bottom: 62};
const cols = [
  {x: 0, width: 480, left: 80, right: 23},
  {x: 480, width: 480, left: 78, right: 26},
  {x: 960, width: 480, left: 77, right: 27},
  {x: 1440, width: 480, left: 74, right: 30}
];
const intFmt = d3.format("d");
const oneFmt = d3.format(".1f");
const widthY = {domain: [-6, 10]};
const widthTicks = range(-6, 10, 2);

panel({
  slot: {...topRow, ...cols[0]}, x: {domain: [26, 39]}, y: {domain: [0, 6]},
  xTicks: range(26, 38, 2), yTicks: range(0, 6, 1), xFormat: intFmt, yFormat: intFmt,
  xLabel: "log10(E) [erg]", yLabel: "log10(Number)", yLabelOffset: 35, tag: "(a)",
  marks: [
    histEdged(aStart, aWidth, aBlue, "blue"),
    histEdged(aStart, aWidth, aGreen.concat(aRed.slice(aGreen.length)), "green"),
    histEdged(aStart, aWidth, aRed, "red")
  ]
});
panel({
  slot: {...topRow, ...cols[1]}, x: {domain: [-2, 2]}, y: widthY,
  xTicks: range(-2, 2, 0.5), yTicks: widthTicks, xFormat: oneFmt, yFormat: intFmt,
  xLabel: "log dist [kpc]", yLabel: "log width [ms]", yLabelOffset: 51, tag: "(b)",
  marks: [
    band(bBlueY, bBlueOutL, bBlueOutR, "url(#blue-sparse)"),
    band(bBlueY, bBlueMidL, bBlueMidR, "url(#blue-mid)"),
    band(bBlueY, bBlueCoreL, bBlueCoreR, "blue"),
    specks(bBlueDots, "blue"),
    band(bGreenOutY, bGreenOutL, bGreenOutR, "url(#green-sparse)"),
    band(bGreenMidY, bGreenMidL, bGreenMidR, "url(#green-mid)"),
    band(bGreenCoreY, bGreenCoreL, bGreenCoreR, "green"),
    specks(bGreenDots, "#1f6f5f"),
    region(bRedOut, "url(#red-sparse)"), region(bRedMid, "url(#red-mid)"), region(bRedCore, "url(#red-dense)"),
    specks(bRedDots, "red")
  ]
});
panel({
  slot: {...topRow, ...cols[2]}, x: {domain: [-1, 4]}, y: widthY,
  xTicks: range(-1, 4, 1), yTicks: widthTicks, xFormat: intFmt, yFormat: intFmt,
  xLabel: "log DM [pc/cc]", yLabel: "log width [ms]", yLabelOffset: 52, tag: "(c)",
  marks: [
    band(cBlueY, cBlueOutL, cBlueOutR, "url(#blue-sparse)"),
    band(cBlueY, cBlueMidL, cBlueMidR, "url(#blue-mid)"),
    band(cBlueY, cBlueCoreL, cBlueCoreR, "blue"),
    specks(cBlueDots, "blue"),
    band(cGreenOutY, cGreenOutL, cGreenOutR, "url(#green-sparse)"),
    band(cGreenMidY, cGreenMidL, cGreenMidR, "url(#green-mid)"),
    band(cGreenCoreY, cGreenCoreL, cGreenCoreR, "green"),
    specks(cGreenDots, "#1f6f5f"),
    region(cRedOut, "url(#red-sparse)"), region(cRedMid, "url(#red-mid)"), region(cRedCore, "url(#red-dense)"),
    specks(cRedDots, "red")
  ]
});
panel({
  slot: {...topRow, ...cols[3]}, x: {domain: [-30, 30]}, y: {domain: [-30, 30]},
  xTicks: range(-30, 30, 10), yTicks: range(-30, 30, 10), xFormat: intFmt, yFormat: intFmt,
  xLabel: "X [kpc]", yLabel: "Y [kpc]", yLabelOffset: 62, tag: "(d)",
  marks: [
    region(dBlueHalo, "url(#blue-sparse)"), region(dBlueMid, "url(#blue-mid)"), region(dBlueCore, "blue"),
    ...dRingsUpper.concat(dRingsLower).map((r) => arc(r, "url(#white-mid)", 8)),
    arc(dDarkArc, "blue", 2.5),
    specks(dBlueDots, "blue"),
    region(dGreenOut, "url(#green-sparse)"), region(dGreenHalo, "url(#green-mid)"), region(dGreenCore, "green"),
    specks(dGreenDots, "#1f6f5f"),
    region(dRedFaint, "url(#red-sparse)"), region(dRedMid, "url(#red-dense)"), region(dRedCore, "red"),
    region(dGreenHalo, "url(#white-sparse)"),
    Plot.dot(dGalacticCentre, {x: (d) => d[0], y: (d) => d[1], r: 4.5, fill: "black", stroke: "black"}),
    Plot.dot(dSun, {x: (d) => d[0], y: (d) => d[1], r: 4.2, fill: "#bfbf00", stroke: "black"})
  ]
});
panel({
  slot: {...lowRow, ...cols[0]}, x: {domain: [0, 30]}, y: {type: "log", domain: [1, 1e5]},
  xTicks: range(0, 30, 5), yTicks: decades(0, 5), yMinor: minorDecades(0, 5), xFormat: intFmt, yFormat: pow10Label,
  xLabel: "distance from the Sun [kpc]", yLabel: "Number", yLabelOffset: 56, tag: "(e)",
  marks: [hist(0, 0.25, eBlue, "blue", 1), hist(0, 0.25, eGreen, "green", 1), hist(0, 0.25, eRed, "red", 1)]
});
panel({
  slot: {...lowRow, ...cols[1]}, x: {domain: [0, 3000]}, y: {type: "log", domain: [1, 1e5]},
  xTicks: range(0, 3000, 500), yTicks: decades(0, 5), yMinor: minorDecades(0, 5), xFormat: intFmt, yFormat: pow10Label,
  xLabel: "DM [pc/cc]", yLabel: "Number", yLabelOffset: 55, tag: "(f)", tagDx: 16,
  marks: [hist(0, 50, fBlue, "blue", 1), hist(0, 50, fGreen, "green", 1), hist(0, 50, fRed, "red", 1)]
});
panel({
  slot: {...lowRow, ...cols[2]}, x: {domain: [-2, 4]}, y: {type: "log", domain: [10, 1e4]},
  xTicks: range(-2, 4, 1), yTicks: decades(1, 4), yMinor: minorDecades(1, 4), xFormat: intFmt, yFormat: pow10Label,
  xLabel: "log(S/N)", yLabel: "Number", yLabelOffset: 57, tag: "(g)",
  marks: [
    hist(-2, 0.1, gBlue, "blue", 10),
    hist(-2, 0.1, gGreen.concat(gRed), "green", 10),
    hist(1, 0.1, gRed, "red", 10)
  ]
});
const p10 = (v) => 10 ** v;
panel({
  slot: {...lowRow, ...cols[3]}, x: {type: "log", domain: [0.1, 1000]}, y: {type: "log", domain: [1e27, 1e38]},
  xTicks: decades(-1, 3), xMinor: minorDecades(-1, 3), yTicks: decades(27, 38), xFormat: pow10Label, yFormat: pow10Label,
  xLabel: "log DM [pc/cc]", yLabel: "log E [erg]", yLabelOffset: 65, tag: "(h)",
  marks: [
    region(hRedOut, "url(#red-spots)", p10, p10),
    region(hRedHalo, "url(#red-blobs)", p10, p10),
    region(hRedCore, "red", p10, p10),
    Plot.dot(hDots, {x: (d) => p10(d[0]), y: (d) => p10(d[1]), r: 2.6, fill: "red", stroke: "none", clip: true}),
    Plot.dot(hStar, {x: (d) => p10(d[0]), y: (d) => p10(d[1]), r: 8, symbol: "star", fill: "#bfbf00", stroke: "black", strokeWidth: 0.8})
  ]
});
</script>
</body>
</html>
